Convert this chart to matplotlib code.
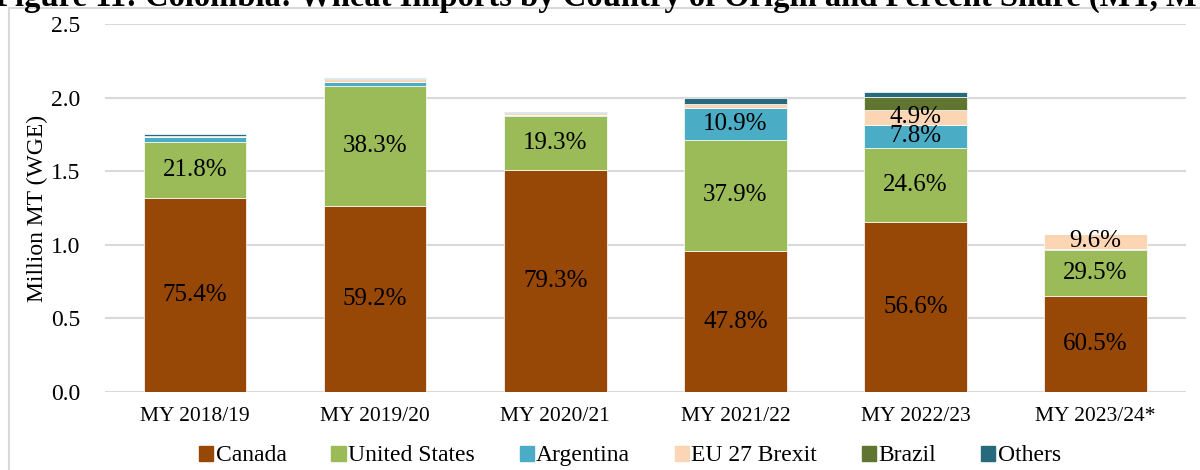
import matplotlib.pyplot as plt
import matplotlib.patches as mpatches
import numpy as np

plt.rcParams['font.family'] = ['Liberation Serif', 'DejaVu Serif']

# data (million MT)
years = ["MY 2018/19", "MY 2019/20", "MY 2020/21", "MY 2021/22", "MY 2022/23", "MY 2023/24*"]
canada = [1.319, 1.262, 1.507, 0.956, 1.155, 0.650]
usa = [0.381, 0.816, 0.367, 0.758, 0.502, 0.317]
argentina = [0.030, 0.030, 0.010, 0.218, 0.159, 0.005]
eu27 = [0.012, 0.020, 0.012, 0.022, 0.100, 0.103]
brazil = [0.0, 0.0, 0.0, 0.0, 0.090, 0.0]
others = [0.010, 0.005, 0.005, 0.045, 0.030, 0.0]

# percent share labels
labels_canada = ["75.4%", "59.2%", "79.3%", "47.8%", "56.6%", "60.5%"]
labels_usa = ["21.8%", "38.3%", "19.3%", "37.9%", "24.6%", "29.5%"]
labels_arg = ["", "", "", "10.9%", "7.8%", ""]
labels_eu = ["", "", "", "", "4.9%", "9.6%"]

series = [("Canada", canada, "#974706"),
          ("United States", usa, "#9BBB59"),
          ("Argentina", argentina, "#4BACC6"),
          ("EU 27 Brexit", eu27, "#FCD5B5"),
          ("Brazil", brazil, "#5F7530"),
          ("Others", others, "#276A7C")]

fig = plt.figure(figsize=(12, 4.7), dpi=100)
ax = fig.add_axes([0.0875, 0.166, 0.9005, 0.783])

x = np.arange(len(years))
bottom = np.zeros(len(years))
tops = {}
for name, vals, col in series:
    vals = np.array(vals)
    ax.bar(x, vals, 0.57, bottom=bottom, color=col, edgecolor='white', linewidth=0.5,
           label=name, zorder=3)
    tops[name] = (bottom.copy(), vals)
    bottom = bottom + vals

def put_labels(name, texts):
    b, v = tops[name]
    for i, t in enumerate(texts):
        if t:
            ax.text(x[i], b[i] + v[i] / 2, t, ha='center', va='center', fontsize=18,
                    color='black', zorder=4)

put_labels("Canada", labels_canada)
put_labels("United States", labels_usa)
put_labels("Argentina", labels_arg)
put_labels("EU 27 Brexit", labels_eu)

ax.set_xlim(-0.5, 5.5)
ax.set_ylim(0, 2.5)
ax.set_yticks(np.arange(0, 2.51, 0.5))
ax.set_yticklabels([f"{v:.1f}" for v in np.arange(0, 2.51, 0.5)], fontsize=17)
ax.set_xticks(x)
ax.set_xticklabels(years, fontsize=15.5)
ax.tick_params(axis='x', length=0, pad=11)
ax.tick_params(axis='y', length=0, pad=18)
ax.grid(axis='y', color='#D9D9D9', linewidth=1.5, zorder=0)
for s in ax.spines.values():
    s.set_visible(False)
ax.set_ylabel("Million MT (WGE)", fontsize=17, labelpad=2)

handles = [mpatches.Patch(color=c, label=n) for n, _, c in series]
fig.legend(handles=handles, loc='center', bbox_to_anchor=(0.525, 0.03), ncol=6,
           fontsize=17, frameon=False, handlelength=0.6, handleheight=0.6,
           handletextpad=0.1, columnspacing=1.9)

# outer frame
fig.patches.append(mpatches.Rectangle((9 / 1200, -0.1), 1.2, 1 - 8 / 470 + 0.1,
                                      transform=fig.transFigure, fill=False,
                                      edgecolor='#D9D9D9', linewidth=1.5))

# figure title, cut off at the top edge as in the source
fig.text(-0.004, 1 - 6 / 470,
         "Figure 11: Colombia: Wheat Imports by Country of Origin and Percent Share (MT, MY)",
         ha='left', va='baseline', fontsize=23.5, fontweight='bold')

fig.savefig("out.png", dpi=100)
